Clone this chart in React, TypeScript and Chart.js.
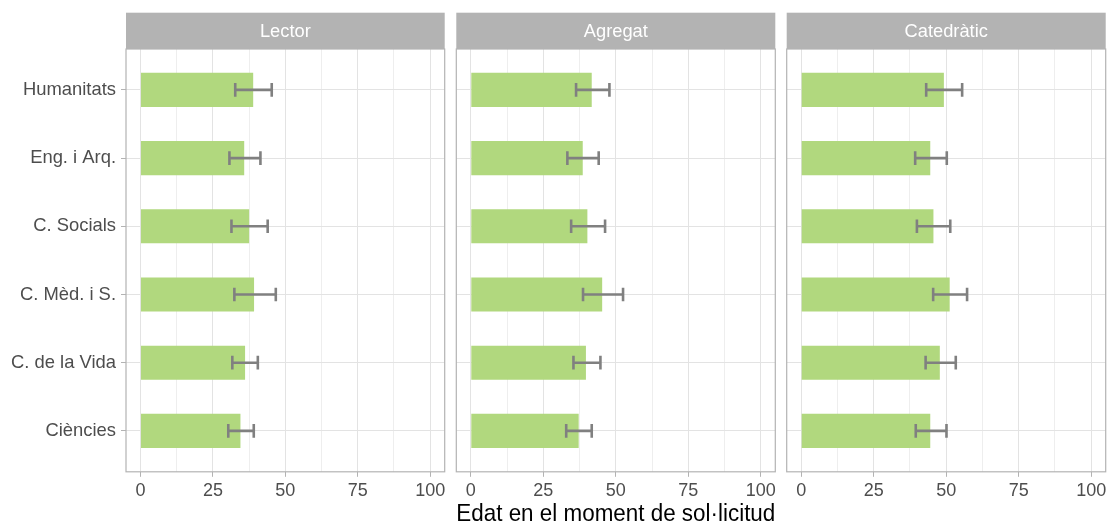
import React, { useEffect, useRef } from "react";
import { Chart, registerables } from "chart.js";

Chart.register(...registerables);

const categories = ["Humanitats", "Eng. i Arq.", "C. Socials", "C. Mèd. i S.", "C. de la Vida", "Ciències"];
const panels = ["Lector", "Agregat", "Catedràtic"];

const lectorMean = [38.9, 35.8, 37.5, 39.2, 36.1, 34.5];
const lectorLow = [32.7, 30.7, 31.4, 32.4, 31.7, 30.3];
const lectorHigh = [45.3, 41.4, 43.9, 46.7, 40.5, 39.1];

const agregatMean = [41.7, 38.6, 40.2, 45.3, 39.7, 37.2];
const agregatLow = [36.3, 33.3, 34.6, 38.7, 35.4, 32.9];
const agregatHigh = [47.8, 44.1, 46.3, 52.5, 44.7, 41.7];

const catedraticMean = [49.2, 44.5, 45.6, 51.2, 47.8, 44.5];
const catedraticLow = [43.1, 39.3, 39.9, 45.5, 42.9, 39.5];
const catedraticHigh = [55.5, 50.2, 51.4, 57.2, 53.3, 50.1];

const xTicks = [0, 25, 50, 75, 100];
const xTitle = "Edat en el moment de sol·licitud";

const FONT = "'Liberation Sans', Arial, sans-serif";
Chart.defaults.font.family = FONT;

const panelData = [
  { mean: lectorMean, low: lectorLow, high: lectorHigh },
  { mean: agregatMean, low: agregatLow, high: agregatHigh },
  { mean: catedraticMean, low: catedraticLow, high: catedraticHigh },
];

// canvas placement (layout only)
const canvasBox = [
  { left: 0, width: 451, padL: 0, padR: 6.3 },
  { left: 451, width: 329, padL: 5.3, padR: 4.7 },
  { left: 780, width: 330, padL: 6.7, padR: 4.3 },
];

const STRIP_TOP = 12.7;
const AREA_TOP = 49;

const minorTicks = xTicks.slice(0, -1).map((v, i) => (v + xTicks[i + 1]) / 2);
const allXTicks = [...xTicks, ...minorTicks].sort((a, b) => a - b);

function Panel({ p }: { p: number }) {
  const ref = useRef<HTMLCanvasElement | null>(null);
  useEffect(() => {
    const d = panelData[p];
    const box = canvasBox[p];
    const facetPlugin = {
      id: "facet" + p,
      afterDatasetsDraw(chart: any) {
        const { ctx } = chart;
        const xs = chart.scales.x;
        const ys = chart.scales.y;
        ctx.save();
        ctx.strokeStyle = "#808080";
        ctx.lineWidth = 2.6;
        for (let i = 0; i < categories.length; i++) {
          const yp = ys.getPixelForValue(i);
          const cap = Math.abs(ys.getPixelForValue(i + 0.1) - yp);
          const x1 = xs.getPixelForValue(d.low[i]);
          const x2 = xs.getPixelForValue(d.high[i]);
          ctx.beginPath();
          ctx.moveTo(x1, yp);
          ctx.lineTo(x2, yp);
          ctx.moveTo(x1, yp - cap);
          ctx.lineTo(x1, yp + cap);
          ctx.moveTo(x2, yp - cap);
          ctx.lineTo(x2, yp + cap);
          ctx.stroke();
        }
        ctx.restore();
      },
      afterDraw(chart: any) {
        const { ctx, chartArea } = chart;
        ctx.save();
        ctx.fillStyle = "#B3B3B3";
        ctx.fillRect(chartArea.left, STRIP_TOP, chartArea.right - chartArea.left, chartArea.top - STRIP_TOP);
        ctx.fillStyle = "#FFFFFF";
        ctx.font = "18.3px " + FONT;
        ctx.textAlign = "center";
        ctx.textBaseline = "middle";
        ctx.fillText(panels[p], (chartArea.left + chartArea.right) / 2, (STRIP_TOP + chartArea.top) / 2 + 1);
        ctx.strokeStyle = "#B3B3B3";
        ctx.lineWidth = 1.2;
        ctx.strokeRect(chartArea.left, chartArea.top, chartArea.right - chartArea.left, chartArea.bottom - chartArea.top);
        ctx.restore();
      },
    };

    const chart = new Chart(ref.current as HTMLCanvasElement, {
      type: "bar",
      data: {
        datasets: [
          {
            data: d.mean.map((v, i) => ({ x: v, y: i })),
            backgroundColor: "#B1D87E",
            borderWidth: 0,
            barPercentage: 0.5,
            categoryPercentage: 1,
          },
        ],
      },
      options: {
        indexAxis: "y",
        responsive: false,
        animation: false,
        events: [],
        layout: { padding: { top: AREA_TOP, left: box.padL, right: box.padR, bottom: 0 } },
        plugins: { legend: { display: false }, tooltip: { enabled: false } },
        scales: {
          x: {
            type: "linear",
            min: -5,
            max: 105,
            offset: false,
            afterBuildTicks: (s: any) => {
              s.ticks = allXTicks.map((v) => ({ value: v }));
            },
            afterFit: (s: any) => {
              s.paddingLeft = 0;
              s.paddingRight = 0;
            },
            ticks: {
              autoSkip: false,
              maxRotation: 0,
              padding: 3,
              color: "#4D4D4D",
              font: { size: 18, family: FONT },
              callback: (v: any) => (xTicks.includes(Number(v)) ? String(v) : ""),
            },
            grid: {
              offset: false,
              color: (c: any) => (xTicks.includes(c.tick?.value) ? "#E3E3E3" : "#EEEEEE"),
              tickColor: (c: any) => (xTicks.includes(c.tick?.value) ? "#B3B3B3" : "rgba(0,0,0,0)"),
              tickLength: 5,
              lineWidth: 1,
            },
            border: { display: false },
            title: {
              display: true,
              text: xTitle,
              color: p === 1 ? "#000000" : "rgba(0,0,0,0)",
              font: { size: 24.2, family: FONT, lineHeight: 0.81 },
              padding: { top: 0, bottom: 0 },
            },
          },
          y: {
            type: "linear",
            reverse: true,
            offset: false,
            min: -0.6,
            max: 5.6,
            afterBuildTicks: (s: any) => {
              s.ticks = categories.map((_, i) => ({ value: i }));
            },
            afterFit: (s: any) => {
              s.width = p === 0 ? 126 : 0;
            },
            ticks: {
              display: p === 0,
              padding: 5,
              color: "#4D4D4D",
              font: { size: 18.4, family: FONT },
              callback: (v: any) => categories[Number(v)] ?? "",
            },
            grid: {
              offset: false,
              color: "#E3E3E3",
              drawTicks: p === 0,
              tickLength: 5,
              tickColor: "#B3B3B3",
              lineWidth: 1,
            },
            border: { display: false },
          },
        },
      },
      plugins: [facetPlugin],
    } as any);
    return () => chart.destroy();
  }, [p]);
  const box = canvasBox[p];
  return (
    <canvas
      ref={ref}
      width={box.width}
      height={524}
      style={{ position: "absolute", left: box.left, top: 0, width: box.width, height: 524 }}
    />
  );
}

export default function App() {
  return (
    <div style={{ position: "fixed", left: 0, top: 0, width: 1110, height: 524, background: "#FFFFFF" }}>
      {panels.map((_, p) => (
        <Panel key={p} p={p} />
      ))}
    </div>
  );
}
